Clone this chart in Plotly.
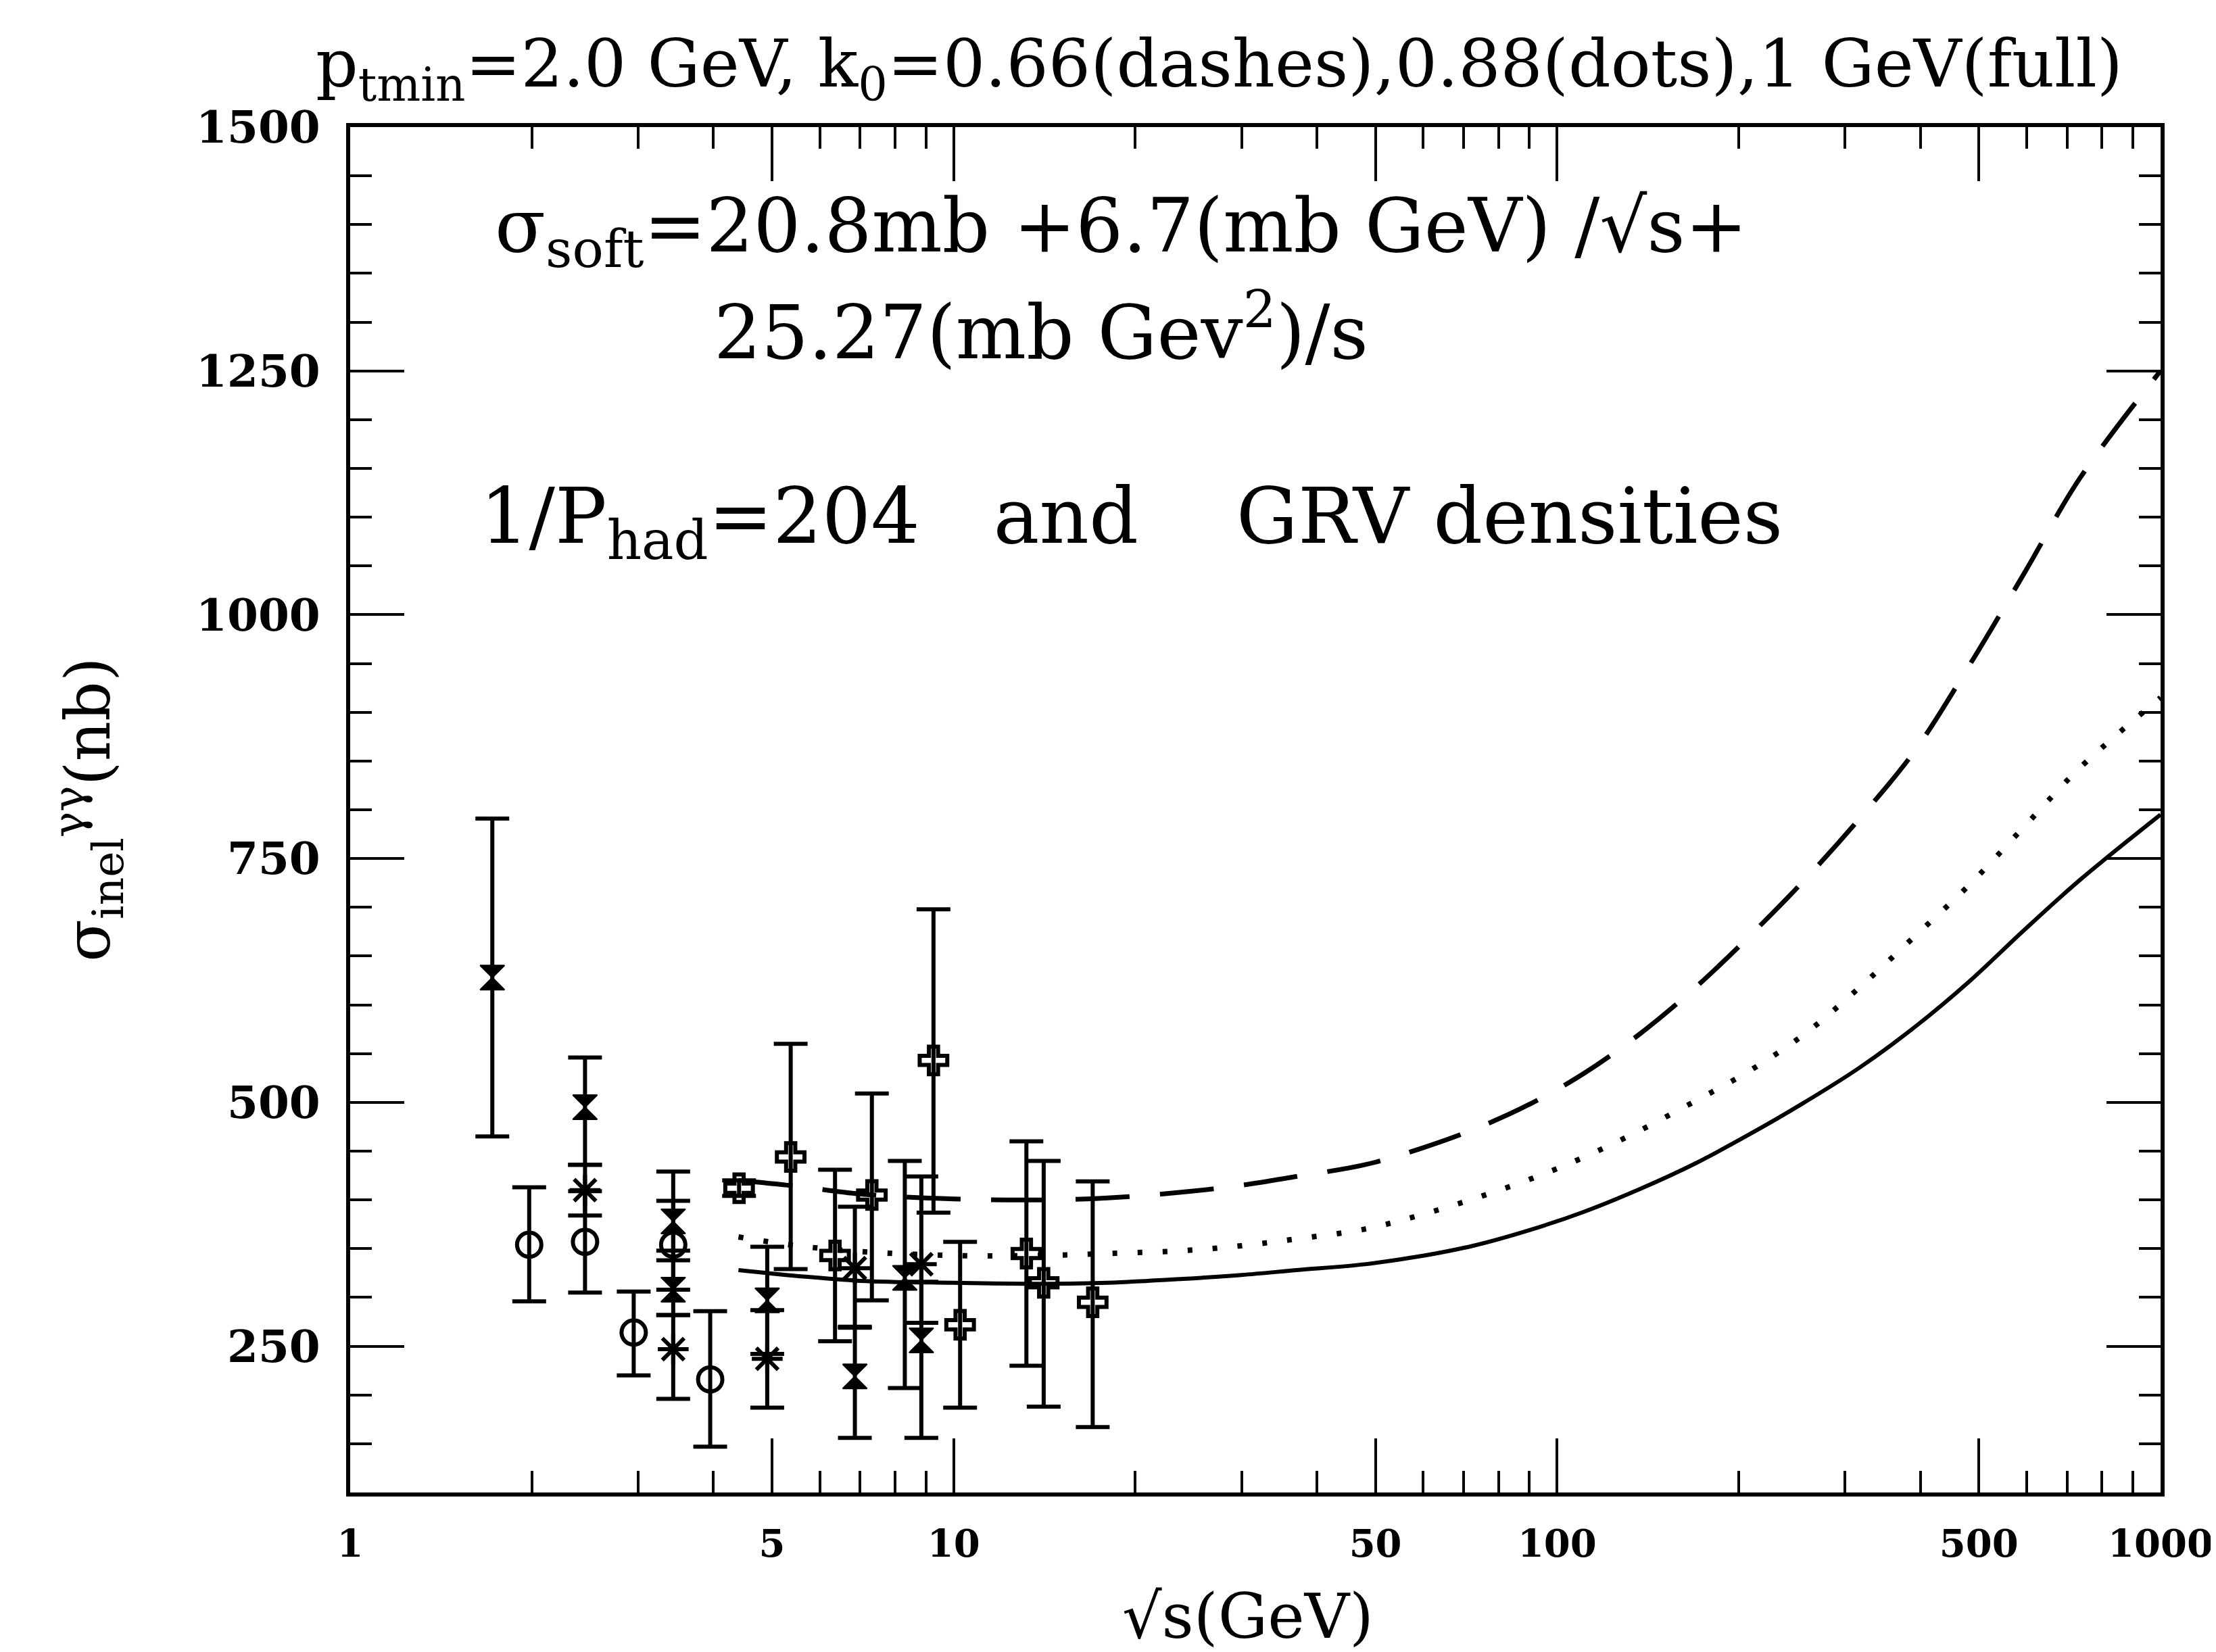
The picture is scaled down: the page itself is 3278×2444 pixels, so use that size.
import plotly.graph_objects as go

# ---------------- data ----------------
# theory curves (sqrt(s) in GeV, sigma in nb)
curve_x = [4.4, 5.5, 7, 10, 14, 18, 24, 30, 37, 48, 59, 72.6, 90, 111, 137, 169, 208,
           257, 316, 391, 482, 595, 735, 1000]
solid_y = [328, 322, 317, 315, 314, 315, 319, 323, 328, 334, 342, 353, 369, 388, 411, 437,
           467, 500, 535, 577, 624, 677, 728, 795]
dotted_y = [362, 353, 347, 343, 343, 345, 348, 353, 360, 370, 384, 401, 421, 444, 471, 501,
            532, 570, 617, 670, 723, 783, 843, 915]
dashed_y = [420, 414, 406, 401, 400, 402, 408, 415, 424, 436, 452, 472, 498, 530, 570, 617,
            670, 728, 790, 860, 948, 1043, 1140, 1250]

# open circles
circ_x = [1.98, 2.45, 2.95, 3.43, 3.95]
circ_y = [354, 357, 264, 354, 216]
circ_up = [59, 52, 42, 45, 70]
circ_dn = [58, 52, 44, 46, 69]

# asterisks
ast_x = [2.45, 3.43, 4.91, 6.86, 8.84]
ast_y = [410, 247, 237, 330, 334]
ast_up = [26, 35, 50, 63, 90]
ast_dn = [26, 51, 50, 60, 60]

# filled hourglasses
hg_x = [1.72, 2.45, 3.43, 3.43, 4.91, 6.86, 8.30, 8.84]
hg_y = [628, 495, 378, 308, 297, 219, 320, 256]
hg_up = [163, 51, 51, 40, 55, 50, 120, 60]
hg_dn = [163, 59, 40, 26, 55, 63, 113, 100]

# crosses
cr_x = [4.41, 5.37, 6.36, 7.32, 9.26, 10.25, 13.2, 14.1, 17.0]
cr_y = [412, 444, 343, 405, 543, 272, 345, 315, 295]
cr_up = [8, 116, 88, 104, 155, 85, 115, 125, 124]
cr_dn = [8, 115, 88, 108, 156, 85, 115, 127, 128]

x_tickvals = [1, 5, 10, 50, 100, 500, 1000]
x_ticktext = ["1", "5", "10", "50", "100", "500", "1000"]
x_minor = [2, 3, 4, 6, 7, 8, 9, 20, 30, 40, 60, 70, 80, 90, 200, 300, 400, 600, 700, 800, 900]
y_tickvals = [250, 500, 750, 1000, 1250, 1500]

FONT = "DejaVu Serif"
BLACK = "black"

fig = go.Figure()

fig.add_trace(go.Scatter(x=curve_x, y=dashed_y, mode="lines", line_shape="spline",
                         line=dict(color=BLACK, width=7, dash="80px,45px"), showlegend=False))
fig.add_trace(go.Scatter(x=curve_x, y=dotted_y, mode="lines", line_shape="spline",
                         line=dict(color=BLACK, width=8, dash="7px,30px"), showlegend=False))
fig.add_trace(go.Scatter(x=curve_x, y=solid_y, mode="lines", line_shape="spline",
                         line=dict(color=BLACK, width=6), showlegend=False))


def pts(x, y, up, dn, symbol, size, lw):
    return go.Scatter(
        x=x, y=y, mode="markers",
        marker=dict(symbol=symbol, size=size, color=BLACK,
                    line=dict(color=BLACK, width=lw)),
        error_y=dict(type="data", symmetric=False, array=up, arrayminus=dn,
                     color=BLACK, thickness=6, width=25),
        showlegend=False)


fig.add_trace(pts(circ_x, circ_y, circ_up, circ_dn, "circle-open", 36, 6))
fig.add_trace(pts(ast_x, ast_y, ast_up, ast_dn, "asterisk-open", 38, 6))
fig.add_trace(pts(hg_x, hg_y, hg_up, hg_dn, "hourglass", 36, 2))
fig.add_trace(pts(cr_x, cr_y, cr_up, cr_dn, "cross-open", 34, 6))

axis_common = dict(
    showline=True, linewidth=6, linecolor=BLACK, mirror="allticks",
    ticks="inside", tickwidth=4, tickcolor=BLACK, ticklen=80,
    showgrid=False, zeroline=False,
)

fig.update_xaxes(type="log", range=[0, 3], tickmode="array",
                 tickvals=x_tickvals, ticktext=x_ticktext,
                 ticklabelstandoff=22,
                 tickfont=dict(family=FONT, size=56, color=BLACK, weight="bold"),
                 minor=dict(tickmode="array", tickvals=x_minor, ticks="inside",
                            ticklen=32, tickwidth=4, tickcolor=BLACK),
                 **axis_common)
fig.update_yaxes(range=[100, 1500], tickmode="array", tickvals=y_tickvals,
                 ticklabelstandoff=25,
                 tickfont=dict(family=FONT, size=66, color=BLACK, weight="bold"),
                 minor=dict(tickmode="linear", tick0=100, dtick=50, ticks="inside",
                            ticklen=32, tickwidth=4, tickcolor=BLACK),
                 **axis_common)

ann_font = dict(family=FONT, size=110, color=BLACK)
annotations = [
    dict(x=0.48, y=1.043, xref="paper", yref="paper", xanchor="center", yanchor="middle",
         text="p<sub>tmin</sub>=2.0 GeV, k<sub>0</sub>=0.66(dashes),0.88(dots),1 GeV(full)",
         font=dict(family=FONT, size=98, color=BLACK), showarrow=False),
    dict(x=0.079, y=0.924, xref="paper", yref="paper", xanchor="left", yanchor="middle",
         text="σ<sub>soft</sub>=20.8mb +6.7(mb GeV) /√s+", font=ann_font, showarrow=False),
    dict(x=0.20, y=0.853, xref="paper", yref="paper", xanchor="left", yanchor="middle",
         text="25.27(mb Gev<sup>2</sup>)/s", font=ann_font, showarrow=False),
    dict(x=0.071, y=0.711, xref="paper", yref="paper", xanchor="left", yanchor="middle",
         text="1/P<sub>had</sub>=204\u00a0\u00a0\u00a0and\u00a0\u00a0\u00a0\u00a0GRV densities",
         font=dict(family=FONT, size=114, color=BLACK), showarrow=False),
    dict(x=0.496, y=-0.091, xref="paper", yref="paper", xanchor="center", yanchor="middle",
         text="√s(GeV)", font=dict(family=FONT, size=92, color=BLACK), showarrow=False),
    dict(x=-0.145, y=0.5, xref="paper", yref="paper", xanchor="center", yanchor="middle",
         text="σ<sub>inel</sub><sup>γγ</sup>(nb)", textangle=-90,
         font=dict(family=FONT, size=92, color=BLACK), showarrow=False),
]

fig.update_layout(
    width=3278, height=2444,
    margin=dict(l=510, r=88, t=180, b=244),
    paper_bgcolor="white", plot_bgcolor="white",
    annotations=annotations,
    showlegend=False,
)

fig.write_html("out.html")
